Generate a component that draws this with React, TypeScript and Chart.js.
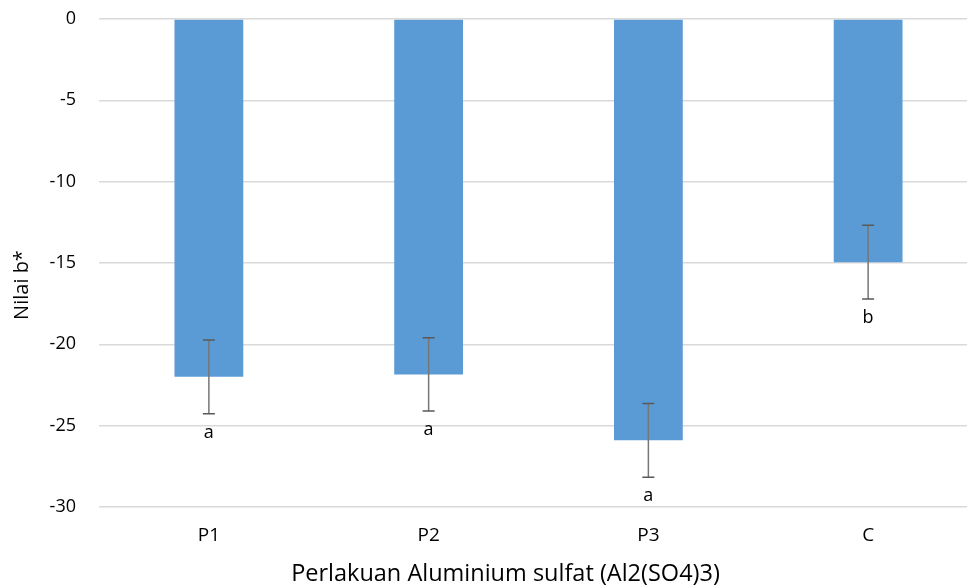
import React, { useEffect, useRef } from "react";
import { Chart, registerables } from "chart.js";

Chart.register(...registerables);

const categories = ["P1", "P2", "P3", "C"];
const values = [-22.0, -21.85, -25.9, -14.95];
const errors = [2.27, 2.25, 2.27, 2.27];
const letters = ["a", "a", "a", "b"];
const yTicks = [0, -5, -10, -15, -20, -25, -30];
const xTitle = "Perlakuan Aluminium sulfat (Al2(SO4)3)";
const yTitle = "Nilai b*";

const FONT = "'Open Sans', Lato, sans-serif";

const errorBarPlugin = {
  id: "errorBars",
  afterDatasetsDraw(chart: any) {
    const { ctx, scales, chartArea } = chart;
    const xs = scales.x;
    const ys = scales.y;
    ctx.save();
    values.forEach((v, i) => {
      const x = xs.getPixelForValue(i);
      const yTop = ys.getPixelForValue(v + errors[i]);
      const yBot = ys.getPixelForValue(v - errors[i]);
      ctx.strokeStyle = "#767676";
      ctx.lineWidth = 1.5;
      ctx.beginPath();
      ctx.moveTo(x, yTop);
      ctx.lineTo(x, yBot);
      ctx.stroke();
      ctx.strokeStyle = "#595959";
      ctx.beginPath();
      ctx.moveTo(x - 6, yTop);
      ctx.lineTo(x + 6, yTop);
      ctx.moveTo(x - 6, yBot);
      ctx.lineTo(x + 6, yBot);
      ctx.stroke();
      ctx.fillStyle = "#000000";
      ctx.font = `18px ${FONT}`;
      ctx.textAlign = "center";
      ctx.textBaseline = "middle";
      ctx.fillText(letters[i], x, yBot + 19);
    });
    // axis titles
    ctx.fillStyle = "#000000";
    ctx.textAlign = "center";
    ctx.textBaseline = "middle";
    ctx.font = `23.5px ${FONT}`;
    ctx.fillText(xTitle, (chartArea.left + chartArea.right) / 2 - 33, chart.height - 12);
    ctx.save();
    ctx.translate(22, (chartArea.top + chartArea.bottom) / 2 + 22);
    ctx.rotate(-Math.PI / 2);
    ctx.font = `20px ${FONT}`;
    ctx.fillText(yTitle, 0, 0);
    ctx.restore();
    ctx.restore();
  },
};

export default function App() {
  const ref = useRef<HTMLCanvasElement | null>(null);
  useEffect(() => {
    if (!ref.current) return;
    const chart = new Chart(ref.current, {
      type: "bar",
      data: {
        labels: categories,
        datasets: [
          {
            data: values,
            backgroundColor: "#5B9BD5",
            borderWidth: 0,
            barPercentage: 1,
            categoryPercentage: 0.313,
          },
        ],
      },
      options: {
        responsive: false,
        animation: false,
        maintainAspectRatio: false,
        layout: { padding: { top: 19, left: 0, right: 0, bottom: 0 } },
        plugins: {
          legend: { display: false },
          tooltip: { enabled: false },
        },
        scales: {
          x: {
            afterFit(scale: any) {
              scale.height = 79;
              scale.paddingLeft = 0;
              scale.paddingRight = 0;
            },
            grid: { display: false, drawTicks: false },
            border: { display: false },
            ticks: {
              color: "#000000",
              font: { family: FONT, size: 19 },
              padding: 17,
            },
          },
          y: {
            min: -30,
            max: 0,
            afterFit(scale: any) {
              scale.width = 99;
              scale.paddingTop = 0;
              scale.paddingBottom = 0;
            },
            afterBuildTicks(scale: any) {
              scale.ticks = yTicks.map((v) => ({ value: v }));
            },
            grid: {
              color: "#d9d9d9",
              lineWidth: 1.5,
              drawTicks: false,
            },
            border: { display: false },
            ticks: {
              color: "#000000",
              font: { family: FONT, size: 18 },
              padding: 23,
            },
          },
        },
      },
      plugins: [errorBarPlugin],
    });
    return () => chart.destroy();
  }, []);
  return (
    <div
      style={{
        position: "fixed",
        left: 0,
        top: 0,
        width: 967,
        height: 586,
        overflow: "hidden",
        background: "#ffffff",
      }}
    >
      <canvas ref={ref} width={978} height={586} style={{ display: "block" }} />
    </div>
  );
}
